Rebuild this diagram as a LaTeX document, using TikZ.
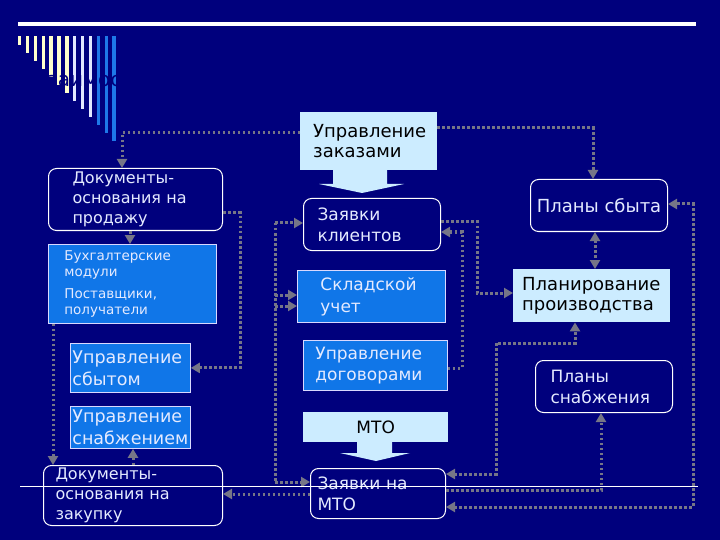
\documentclass[tikz,border=0pt]{standalone}
\usepackage{fontspec}
\setmainfont{DejaVu Sans}
\usetikzlibrary{arrows.meta}
\definecolor{slidebg}{RGB}{0,0,125}
\definecolor{lightfill}{RGB}{204,236,255}
\definecolor{bluefill}{RGB}{16,118,232}
\definecolor{linkgray}{RGB}{118,118,135}
\definecolor{paletext}{RGB}{228,234,255}
\definecolor{barbeige}{RGB}{255,255,204}
\definecolor{barpale}{RGB}{226,232,255}
\definecolor{barblue}{RGB}{30,120,232}
\tikzset{
  blk/.style={anchor=north west, inner ysep=0pt, align=left, font=\fontsize{18}{20}\selectfont},
  lightbox/.style={blk, fill=lightfill, text=black},
  bluebox/.style={blk, fill=bluefill, draw=white!85!blue, line width=0.8pt, text=paletext},
  roundbox/.style={blk, fill=slidebg, draw=white, line width=1pt, rounded corners=8pt, text=paletext},
  link/.style={draw=linkgray, line width=3pt, dash pattern=on 2.5pt off 2.5pt}
}
\newcommand{\lightblk}[4] {\node at (#1) (#2) [lightbox, #3] {#4};}
\newcommand{\blueblk}[4] {\node at (#1) (#2) [bluebox, #3] {#4};}
\newcommand{\roundblk}[4] {\node at (#1) (#2) [roundbox, #3] {#4};}
\newcommand{\linkarrow}[2] {\draw [link, ->] (#1) -- (#2);}
\begin{document}
\begin{tikzpicture}[x=1pt, y=-1pt, >={Triangle[length=9pt,width=10pt]}]
\useasboundingbox (0,0) rectangle (720,540);
\fill[slidebg] (0,0) rectangle (720,540);

\fill[white] (18,22) rectangle (696,26);
\foreach \i in {0,...,12} {
  \pgfmathsetmacro\bx{18+7.87*\i}
  \pgfmathsetmacro\by{45+8*\i}
  \ifnum\i<7 \def\bc{barbeige}\else\ifnum\i<10 \def\bc{barpale}\else\def\bc{barblue}\fi\fi
  \fill[\bc] (\bx,36) rectangle (\bx+3.3,\by);
}
\node[anchor=base west, inner sep=0pt, text=slidebg, font=\fontsize{20}{24}\selectfont] (title) at (47,87) {заимос};

\fill[lightfill] (333,169) -- (333,184) -- (319,184) -- (362,193) -- (404,184) -- (387,184) -- (387,169) -- cycle;
\fill[lightfill] (357,441) -- (357,453) -- (340,453) -- (376,461) -- (410,453) -- (392,453) -- (392,441) -- cycle;

\lightblk {300,112}{zakaz}{minimum width=137pt, minimum height=58pt, inner xsep=13pt, text width=111pt}{Управление\\заказами}
\roundblk {303,198}{zayavcl}{minimum width=137pt, minimum height=52pt, inner xsep=14pt, text width=109pt, font=\fontsize{17}{21}\selectfont}{Заявки\\клиентов}
\blueblk {297,270}{sklad}{minimum width=148pt, minimum height=52pt, inner xsep=23pt, text width=102pt, font=\fontsize{17}{22}\selectfont}{Складской\\учет}
\blueblk {303,340}{dogovor}{minimum width=144pt, minimum height=50pt, inner xsep=12pt, text width=120pt, font=\fontsize{17}{21}\selectfont}{Управление\\договорами}
\lightblk {303,412}{mto}{minimum width=145pt, minimum height=30pt, align=center, font=\fontsize{17}{20}\selectfont}{МТО}
\roundblk {310,468}{zayavmto}{minimum width=135pt, minimum height=50pt, inner xsep=7pt, text width=121pt, font=\fontsize{17}{21}\selectfont}{Заявки на\\МТО}

\roundblk {48,168}{docprod}{minimum width=174pt, minimum height=62pt, inner xsep=24pt, text width=126pt, font=\fontsize{16}{20}\selectfont}{Документы-\\основания на\\продажу}
\blueblk {48,244}{buh}{minimum width=168pt, minimum height=79pt, inner xsep=16pt, text width=136pt, font=\fontsize{13.5}{16}\selectfont}{Бухгалтерские\\модули\\[6pt]Поставщики,\\получатели}
\blueblk {70,343}{sbyt}{minimum width=120pt, minimum height=49pt, inner xsep=2pt, text width=116pt, font=\fontsize{17.5}{22}\selectfont}{Управление\\сбытом}
\blueblk {70,406}{snab}{minimum width=120pt, minimum height=42pt, inner xsep=2pt, text width=116pt, font=\fontsize{17.5}{22}\selectfont}{Управление\\снабжением}
\roundblk {43,465}{doczak}{minimum width=179pt, minimum height=60pt, inner xsep=12pt, text width=155pt, font=\fontsize{16}{20}\selectfont}{Документы-\\основания на\\закупку}

\roundblk {530,179}{plsbyt}{minimum width=137pt, minimum height=52pt, align=center}{Планы сбыта}
\lightblk {513,269}{planir}{minimum width=157pt, minimum height=53pt, inner xsep=9pt, text width=139pt}{Планирование\\производства}
\roundblk {535,360}{plsnab}{minimum width=137pt, minimum height=52pt, inner xsep=15pt, text width=107pt, font=\fontsize{17}{21}\selectfont}{Планы\\снабжения}

\draw [link, ->] (zakaz.west |- 0,133) -| (docprod.north -| 122,0);
\draw [link, ->] (zakaz.east |- 0,128) -| (plsbyt.north -| 593,0);
\linkarrow {docprod.south -| 130,0}{buh.north -| 130,0}
\draw [link, ->] (docprod.east |- 0,213) -- (240,213) |- (sbyt.east);
\linkarrow {buh.south -| 53,0}{doczak.north -| 53,0}
\linkarrow {doczak.north -| 133,0}{snab.south -| 133,0}

\coordinate (bustop) at (275,223);
\coordinate (busbot) at (275,482);
\draw [link] (bustop) -- (busbot);
\linkarrow {bustop}{zayavcl.west |- bustop}
\linkarrow {275,295}{sklad.west |- 0,295}
\linkarrow {275,306}{sklad.west |- 0,306}
\linkarrow {busbot}{zayavmto.west |- busbot}
\linkarrow {zayavmto.west |- 0,494}{doczak.east |- 0,494}

\draw [link, ->] (zayavcl.east |- 0,222) -- (477,222) |- (planir.west |- 0,293);
\draw [link, ->] (dogovor.east |- 0,368) -- (462,368) |- (zayavcl.east |- 0,232);
\draw [link, <->] (plsbyt.south -| 595,0) -- (planir.north -| 595,0);
\draw [link, <->] (zayavmto.east |- 0,474) -- (496,474) |- (575,343) -- (planir.south -| 575,0);
\draw [link, ->] (zayavmto.east |- 0,490) -| (plsnab.south -| 601,0);
\draw [link, <->] (zayavmto.east |- 0,507) -| (693,204) -- (plsbyt.east |- 0,204);

\draw [white, line width=0.9pt] (20,486) -- (698,486);
\end{tikzpicture}
\end{document}
